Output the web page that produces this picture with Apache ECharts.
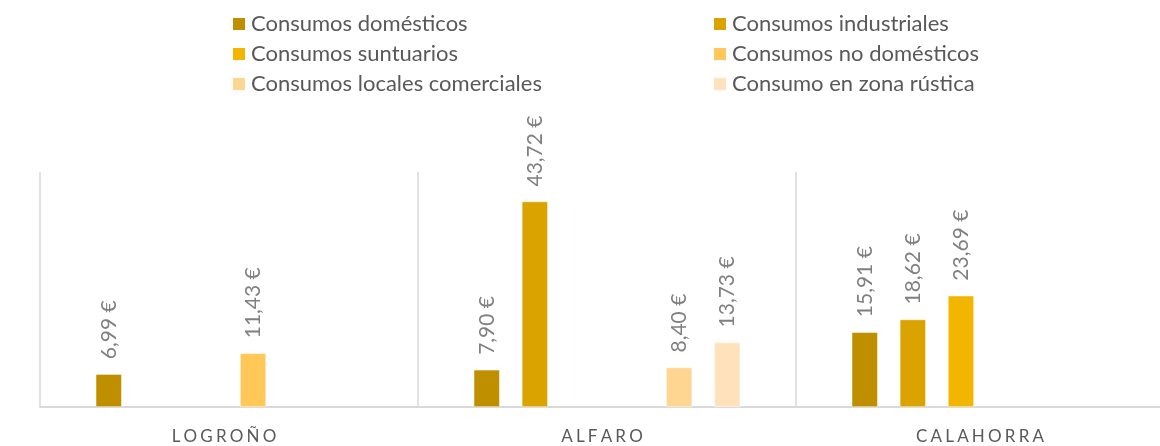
<!DOCTYPE html>
<html>
<head>
<meta charset="utf-8">
<script src="https://cdn.jsdelivr.net/npm/echarts@6/dist/echarts.min.js"></script>
<style>
  html, body { margin: 0; padding: 0; background: #fff; }
  #chart { width: 1160px; height: 446px; }
</style>
</head>
<body>
<div id="chart"></div>
<script>
// categorías (municipios)
var ciudades = ['LOGROÑO', 'ALFARO', 'CALAHORRA'];

// series, en €
var domesticos   = [6.99, 7.90, 15.91];
var industriales = [null, 43.72, 18.62];
var suntuarios   = [null, null, 23.69];
var noDomesticos = [11.43, null, null];
var locales      = [null, 8.40, null];
var rustica      = [null, 13.73, null];

var nombres = [
  'Consumos domésticos', 'Consumos industriales',
  'Consumos suntuarios', 'Consumos no domésticos',
  'Consumos locales comerciales', 'Consumo en zona rústica'
];
var valores = [domesticos, industriales, suntuarios, noDomesticos, locales, rustica];
var colores = ['#BF8F00', '#DAA300', '#F3B600', '#FFC859', '#FFD592', '#FFE2BC'];

var fuente = 'Lato';

var series = nombres.map(function (n, i) {
  return {
    name: n,
    type: 'bar',
    data: valores[i],
    barWidth: 26,
    barGap: '85%',
    itemStyle: { color: colores[i], borderColor: '#fff', borderWidth: 0.5 },
    label: {
      show: true,
      position: 'top',
      rotate: 90,
      align: 'left',
      verticalAlign: 'middle',
      distance: 15,
      color: '#808080',
      fontFamily: fuente,
      fontSize: 21,
      formatter: function (p) {
        return p.value.toFixed(2).replace('.', ',') + ' €';
      }
    }
  };
});

var leyenda = {
  top: 13, orient: 'vertical', padding: 0,
  itemWidth: 14, itemHeight: 14, itemGap: 8,
  icon: 'rect',
  textStyle: { fontFamily: fuente, fontSize: 22, color: '#595959', lineHeight: 22 }
};

var chart = echarts.init(document.getElementById('chart'));
chart.setOption({
  animation: false,
  legend: [
    Object.assign({}, leyenda, { left: 231, data: [nombres[0], nombres[2], nombres[4]] }),
    Object.assign({}, leyenda, { left: 712, data: [nombres[1], nombres[3], nombres[5]] })
  ],
  grid: { left: 40, top: 172, width: 1134, height: 235, outerBoundsMode: 'none', containLabel: false },
  xAxis: {
    type: 'category',
    data: ciudades,
    axisLine: { lineStyle: { color: '#d9d9d9', width: 2 } },
    axisTick: { show: false },
    splitLine: { show: true, lineStyle: { color: '#d9d9d9', width: 1.5 } },
    axisLabel: {
      color: '#595959',
      fontFamily: fuente,
      fontSize: 17,
      margin: 21,
      padding: [0, 10, 0, 0],
      formatter: function (v) { return v.split('').join('\u2009\u200a'); }
    }
  },
  yAxis: {
    type: 'value',
    min: 0, max: 50,
    show: false
  },
  series: series
});
</script>
</body>
</html>
